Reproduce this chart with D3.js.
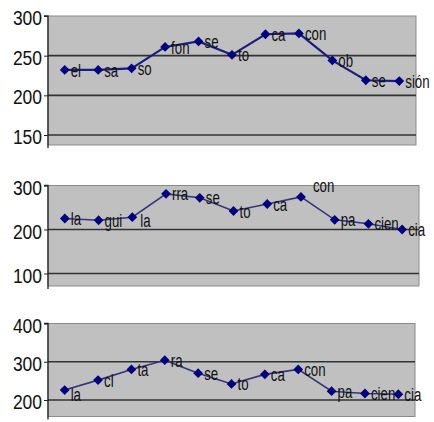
<!DOCTYPE html>
<html><head><meta charset="utf-8">
<script src="https://cdn.jsdelivr.net/npm/d3@7/dist/d3.min.js"></script>
<style>body{margin:0;background:#fff}svg{display:block}</style>
</head><body>
<svg id="c" width="434" height="422"></svg>
<script>
// ---- data ----
const labels1 = ["el","sa","so","fon","se","to","ca","con","ob","se","sión"];
const values1 = [232,232,234,261,268,251,277,278,244,219,218];
const ticks1  = [150,200,250,300];

const labels2 = ["la","gui","la","rra","se","to","ca","con","pa","cien","cia"];
const values2 = [225,221,228,281,272,242,258,274,222,213,200];
const ticks2  = [100,200,300];

const labels3 = ["la","cl","ta","ra","se","to","ca","con","pa","cien","cia"];
const values3 = [226,252,280,304,270,242,267,280,223,217,215];
const ticks3  = [200,300,400];

// ---- layout ----
const panels = [
  {labels:labels1, values:values1, ticks:ticks1, left:48, right:416, top:16,    bottom:135, rectBottom:145},
  {labels:labels2, values:values2, ticks:ticks2, left:48, right:419, top:185.5, bottom:273.5, rectBottom:286},
  {labels:labels3, values:values3, ticks:ticks3, left:48, right:415, top:323.5, bottom:400, rectBottom:416.5}
];
// manual label nudges (panel index, point index) -> [dx, dy]
const nudge = {"1-7":[6,-12], "1-2":[2,3], "2-0":[0,4]};

const svg = d3.select("#c");
const font = "'Liberation Sans', Arial, sans-serif";

panels.forEach((p, pi) => {
  const g = svg.append("g");
  const x = d3.scalePoint().domain(d3.range(p.labels.length)).range([p.left, p.right]).padding(0.5);
  const y = d3.scaleLinear().domain(d3.extent(p.ticks)).range([p.bottom, p.top]);

  g.append("rect").attr("x", p.left).attr("y", p.top)
    .attr("width", p.right - p.left).attr("height", p.rectBottom - p.top)
    .attr("fill", "#c0c0c0").attr("stroke", "#8a8a8a").attr("stroke-width", 1);

  // gridlines
  g.selectAll("line.grid").data(p.ticks.slice(0, -1)).join("line")
    .attr("x1", p.left).attr("x2", p.right)
    .attr("y1", d => y(d)).attr("y2", d => y(d))
    .attr("stroke", "#333").attr("stroke-width", 1.6);

  // y axis
  const ax = g.append("g").attr("transform", `translate(${p.left},0)`)
    .call(d3.axisLeft(y).tickValues(p.ticks).tickSize(4).tickPadding(4).tickFormat(d3.format("d")));
  ax.select(".domain").attr("d", `M-4,${p.top}H0V${p.rectBottom + 3}`).attr("stroke", "#222").attr("stroke-width", 1.3);
  ax.selectAll(".tick line").attr("stroke", "#222");
  ax.selectAll(".tick text").attr("font-family", font).attr("font-size", 19)
    .attr("fill", "#111").attr("dy", "0.42em").attr("x", -6.5)
    .attr("transform", "scale(0.92,1.08)");

  // line
  const line = d3.line().x((d, i) => x(i)).y(d => y(d));
  g.append("path").datum(p.values).attr("d", line)
    .attr("fill", "none").attr("stroke", pi === 0 ? "#1c1c80" : "#34347a").attr("stroke-width", pi === 0 ? 2.2 : 1.6);

  // markers
  g.selectAll("path.m").data(p.values).join("path")
    .attr("d", d3.symbol(d3.symbolSquare, 48)())
    .attr("transform", (d, i) => `translate(${x(i)},${y(d)}) rotate(45)`)
    .attr("fill", "#000080");

  // labels
  g.selectAll("text.lab").data(p.values).join("text")
    .attr("transform", (d, i) => {
      const n = nudge[pi + "-" + i] || [0, 0];
      return `translate(${x(i) + 6 + n[0]},${y(d) + n[1]}) scale(0.78,1.1)`;
    })
    .attr("dy", "0.35em")
    .attr("font-family", font).attr("font-size", 17).attr("fill", "#111")
    .text((d, i) => p.labels[i]);
});
</script>
</body></html>
